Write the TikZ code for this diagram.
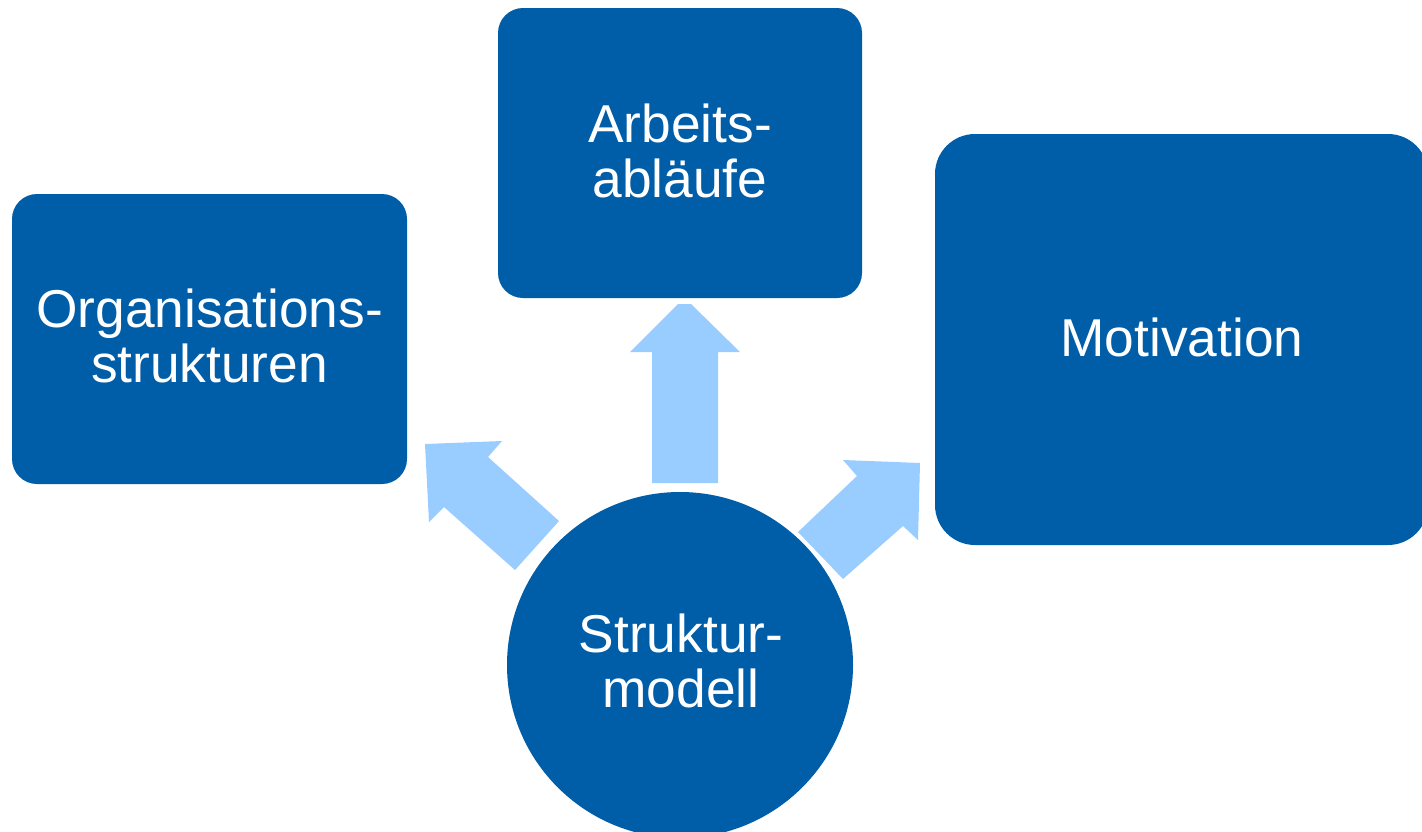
\documentclass[tikz,border=0pt]{standalone}
\usepackage{fontspec}
\setmainfont{Liberation Sans}
\definecolor{boxblue}{HTML}{005DA8}
\definecolor{arrowblue}{HTML}{99CCFF}
\begin{document}
\begin{tikzpicture}[x=1pt,y=-1pt,
  blockbox/.style={fill=boxblue, draw=none, inner sep=0pt, text=white, align=center,
    font=\fontsize{53.3}{55}\selectfont},
  bigarrow/.style={fill=arrowblue, draw=none}]
\clip (0,0) rectangle (1422,831);
\fill[white] (0,0) rectangle (1422,831);
% boxes
\node[blockbox, rounded corners=25pt, minimum width=395pt, minimum height=290pt] (org) at (209.5,339) {};
\node[text=white, align=center, font=\fontsize{53.3}{55}\selectfont, inner sep=0pt] (orgtext) at (209.5,336) {Organisations-\\strukturen};
\node[blockbox, rounded corners=25pt, minimum width=364pt, minimum height=290pt] (arb) at (680,153) {};
\node[text=white, align=center, font=\fontsize{53.3}{55}\selectfont, inner sep=0pt] (arbtext) at (680,150.5) {Arbeits-\\abläufe};
\node[blockbox, rounded corners=40pt, minimum width=493pt, minimum height=411pt] (mot) at (1181.5,339.5) {};
\node[text=white, align=center, font=\fontsize{53.3}{55}\selectfont, inner sep=0pt] (mottext) at (1182,337) {Motivation};
\node[blockbox, circle, minimum size=346pt] (struk) at (680,665) {};
\node[text=white, align=center, font=\fontsize{53.3}{55}\selectfont, inner sep=0pt] (struktext) at (681,661) {Struktur-\\modell};
% block arrows
\fill[bigarrow] (652,483) -- (652,352) -- (630,352) -- (678,304) -- (691,304) -- (740,352) -- (718,352) -- (718,483) -- cycle;
\fill[bigarrow] (559,521) -- (488,457) -- (502,441) -- (425,444) -- (429,522) -- (444,507) -- (515,570) -- cycle;
\fill[bigarrow] (798,532) -- (857,476) -- (843,460) -- (920,463) -- (918,540) -- (903,526) -- (843,579) -- cycle;
\end{tikzpicture}
\end{document}
